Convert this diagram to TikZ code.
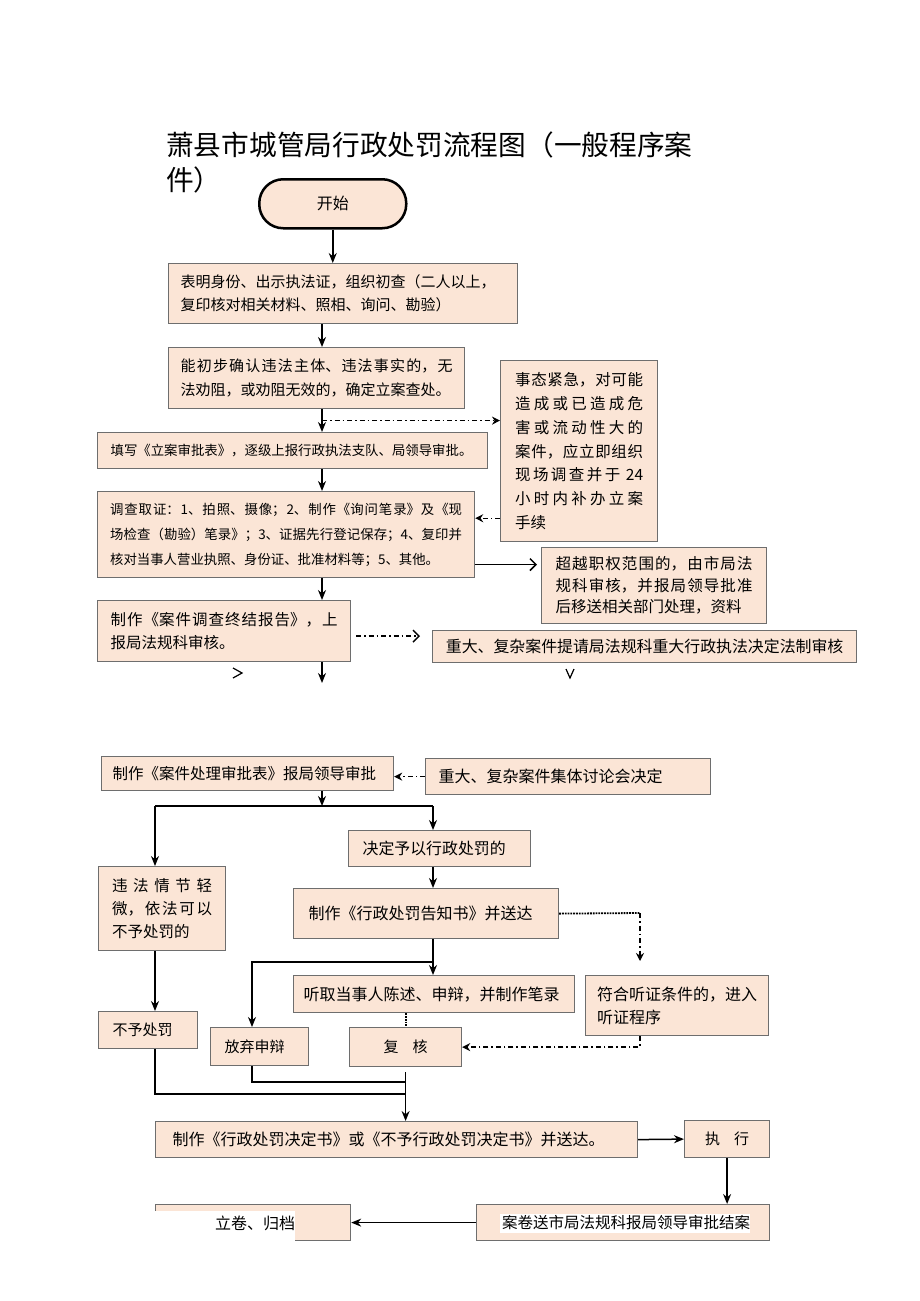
\documentclass[tikz,border=0pt]{standalone}
\usepackage{fontspec}
\setmainfont{Noto Sans CJK SC}
\usepackage{xcolor}
\usetikzlibrary{arrows.meta}
\XeTeXlinebreaklocale "zh"
\XeTeXlinebreakskip=0pt plus 2pt
\definecolor{boxfill}{RGB}{251,229,214}
\definecolor{boxline}{RGB}{110,110,110}
\tikzset{
  box/.style={draw=boxline, line width=1.2pt, fill=boxfill, anchor=north west,
    inner ysep=0pt, inner xsep=12pt, align=left},
  fs/.style 2 args={font=\fontsize{#1}{#2}\selectfont},
  flow/.style={line width=1.5pt, -{Stealth[length=10pt,width=8pt]}},
  link/.style={line width=1.5pt},
  dashdot/.style={line width=1.4pt, dash pattern=on 5pt off 3pt on 1.5pt off 3pt},
  tip/.style={-{Stealth[length=8pt,width=8pt]}},
  barb/.style={-{Straight Barb[length=6pt,width=12pt]}}
}

\begin{document}
\begin{tikzpicture}[x=1pt,y=-1pt]
  \useasboundingbox (0,0) rectangle (920,1301);
  \fill[white] (0,0) rectangle (920,1301);

  \node[anchor=base west, inner sep=0pt, fs={27.7}{35}] (title) at (166,155) {萧县市城管局行政处罚流程图（一般程序案};
  \node[anchor=base west, inner sep=0pt, fs={27.7}{35}] (titlecont) at (166,190) {件）};

  \node[box, draw=black, line width=2.5pt, rounded corners=24pt, align=center, fs={16}{20},
    minimum width=147pt, minimum height=49pt] (start) at (258,178) {开始};
  \node[box, fs={15}{23}, minimum width=349pt, minimum height=60pt, text width=325pt] (identify) at (168,263)
    {表明身份、出示执法证，组织初查（二人以上，\\复印核对相关材料、照相、询问、勘验）};
  \node[box, fs={15}{24}, align=justify, minimum width=295pt, minimum height=61pt, text width=272pt] (check) at (168,347)
    {能初步确认违法主体、违法事实的，无\linebreak 法劝阻，或劝阻无效的，确定立案查处。};
  \node[box, fs={15.5}{23.8}, align=justify, inner xsep=14.5pt, minimum width=157pt, minimum height=181pt, text width=128pt] (urgent) at (500,360)
    {事态紧急，对可能\linebreak 造成或已造成危\linebreak 害或流动性大的\linebreak 案件，应立即组织\linebreak 现场调查并于 24\linebreak 小时内补办立案\linebreak 手续};
  \node[box, fs={13.4}{20}, inner xsep=13pt, minimum width=390pt, minimum height=36pt, text width=364pt] (register) at (97,432)
    {填写《立案审批表》，逐级上报行政执法支队、局领导审批。};
  \node[box, fs={13.4}{25}, align=justify, inner xsep=12.5pt, minimum width=377pt, minimum height=86pt, text width=352pt] (inv) at (97,491)
    {调查取证：1、拍照、摄像；2、制作《询问笔录》及《现\linebreak 场检查（勘验）笔录》；3、证据先行登记保存；4、复印并\linebreak 核对当事人营业执照、身份证、批准材料等；5、其他。};
  \node[box, fs={15.5}{21.5}, align=justify, inner xsep=14pt, minimum width=225pt, minimum height=76pt, text width=197pt] (beyond) at (541,547)
    {\parfillskip=0pt 超越职权范围的，由市局法\linebreak 规科审核，并报局领导批准\linebreak 后移送相关部门处理，资料};
  \node[box, fs={15.5}{23}, align=justify, inner xsep=13pt, minimum width=253pt, minimum height=61pt, text width=227pt] (conclude) at (97,600)
    {制作《案件调查终结报告》，上\linebreak 报局法规科审核。};
  \node[box, fs={15.9}{20}, align=center, minimum width=424pt, minimum height=32pt] (majorreview) at (432,630)
    {重大、复杂案件提请局法规科重大行政执法决定法制审核};

  \node[box, fs={15.5}{20}, inner xsep=11pt, minimum width=292pt, minimum height=34pt, text width=270pt] (approval) at (101,756)
    {制作《案件处理审批表》报局领导审批};
  \node[box, fs={16}{20}, inner xsep=13pt, minimum width=285pt, minimum height=36pt, text width=259pt] (group) at (425,758)
    {重大、复杂案件集体讨论会决定};
  \node[box, fs={15.5}{23}, align=justify, inner xsep=13.5pt, minimum width=127pt, minimum height=84pt, text width=100pt] (minor) at (98,866)
    {违法情节轻\linebreak 微，依法可以\linebreak 不予处罚的};
  \node[box, fs={15.9}{20}, inner xsep=14pt, minimum width=182pt, minimum height=36pt, text width=154pt] (decide) at (348,830)
    {决定予以行政处罚的};
  \node[box, fs={16}{20}, inner xsep=15pt, minimum width=265pt, minimum height=50pt, text width=235pt] (notice) at (293,888)
    {制作《行政处罚告知书》并送达};
  \node[box, fs={16}{20}, inner xsep=10pt, minimum width=281pt, minimum height=37pt, text width=261pt] (listen) at (293,975)
    {听取当事人陈述、申辩，并制作笔录};
  \node[box, fs={16}{23}, inner xsep=11.5pt, minimum width=183pt, minimum height=60pt, text width=160pt] (hearing) at (585,975)
    {符合听证条件的，进入\\听证程序};
  \node[box, fs={15}{20}, inner xsep=14pt, minimum width=99pt, minimum height=37pt, text width=71pt] (nopen) at (98,1011)
    {不予处罚};
  \node[box, fs={15}{20}, inner xsep=14pt, minimum width=98pt, minimum height=38pt, text width=70pt] (waive) at (210,1027)
    {放弃申辩};
  \node[box, fs={15}{20}, align=center, minimum width=112pt, minimum height=39pt] (review) at (349,1027)
    {复\hspace{14pt}核};
  \node[box, fs={16}{20}, inner xsep=17pt, minimum width=482pt, minimum height=36pt, text width=448pt] (decision) at (155,1121)
    {制作《行政处罚决定书》或《不予行政处罚决定书》并送达。};
  \node[box, fs={15}{20}, align=center, minimum width=85pt, minimum height=37pt] (execute) at (684,1120)
    {执\hspace{14pt}行};
  \node[box, minimum width=293pt, minimum height=36pt] (report) at (476,1204) {};
  \node[box, minimum width=195pt, minimum height=36pt] (archive) at (155,1204) {};
  \fill[white] (150,1211) rectangle (295,1246);
  \fill[white] (500,1214) rectangle (750,1233);
  \node[fs={16}{20}, inner sep=0pt] (archivetext) at (255,1223) {立卷、归档};
  \node[fs={15.5}{20}, inner sep=0pt] (reporttext) at (626,1223) {案卷送市局法规科报局领导审批结案};

  \coordinate (spine) at (322,0);
  \draw[flow] (start.south) -- (start.south |- identify.north);
  \draw[flow] (identify.south -| spine) -- (check.north -| spine);
  \draw[flow] (check.south -| spine) -- coordinate[midway] (fork1) (register.north -| spine);
  \draw[dashdot, tip] (fork1) -- (fork1 -| urgent.west);
  \draw[flow] (register.south -| spine) -- (inv.north -| spine);
  \coordinate (u1) at ([yshift=24pt]urgent.south west);
  \draw[dashdot, tip] (u1) -- (u1 -| inv.east);
  \coordinate (i1) at ([yshift=-30pt]inv.east);
  \draw[link, barb, shorten >=4pt] (i1) -- (i1 -| beyond.west);
  \draw[flow] (inv.south -| spine) -- (conclude.north -| spine);
  \coordinate (c1) at ([yshift=-5pt]conclude.east);
  \draw[dashdot, barb, shorten <=5pt, shorten >=12pt] (c1) -- (c1 -| majorreview.west);
  \coordinate (gap1) at (322,683);
  \draw[flow] (conclude.south -| spine) -- (gap1);
  \draw[line width=1.2pt] (233,668) -- (242,673) -- (233,678);
  \draw[line width=1.2pt] (566,669) -- (570,678) -- (574,669);

  \draw[dashdot, tip] (group.west) -- (group.west -| approval.east);
  \coordinate (split) at (322,806);
  \coordinate (lcol) at (155,806);
  \coordinate (rcol) at (433,806);
  \draw[flow] (approval.south -| split) -- (split);
  \draw[link] (lcol) -- (rcol);
  \draw[flow] (lcol) -- (lcol |- minor.north);
  \draw[flow] (rcol) -- (rcol |- decide.north);
  \draw[flow] (decide.south -| rcol) -- (notice.north -| rcol);
  \draw[flow] (notice.south -| rcol) -- (listen.north -| rcol);
  \coordinate (lsplit) at (433,962);
  \coordinate (wcol) at (252,962);
  \draw[flow] (lsplit) -- (wcol) -- (wcol |- waive.north);
  \coordinate (hcol) at (640,913);
  \draw[line width=1.8pt, densely dotted] (notice.east) -- (hcol);
  \draw[dashdot, tip, shorten >=14pt] (hcol) -- (hcol |- hearing.north);
  \draw[dashdot, tip] (hearing.south -| hcol) -- (hcol |- review.east) -- (review.east);
  \draw[line width=1.8pt, densely dotted] (review.north |- listen.south) -- (review.north);
  \draw[flow] (lcol |- minor.south) -- (lcol |- nopen.north);
  \coordinate (mcol) at (406,1094);
  \coordinate (wjoin) at (406,1082);
  \draw[link] (lcol |- nopen.south) -- (lcol |- mcol) -- (mcol);
  \draw[link] (wcol |- waive.south) -- (wcol |- wjoin) -- (wjoin);
  \draw[flow, shorten <=5pt] (review.south) -- (review.south |- decision.north);
  \draw[flow] (decision.east) -- (execute.west);
  \draw[flow] (execute.south) -- (execute.south |- report.north);
  \draw[flow] (report.west) -- (archive.east);
\end{tikzpicture}
\end{document}
